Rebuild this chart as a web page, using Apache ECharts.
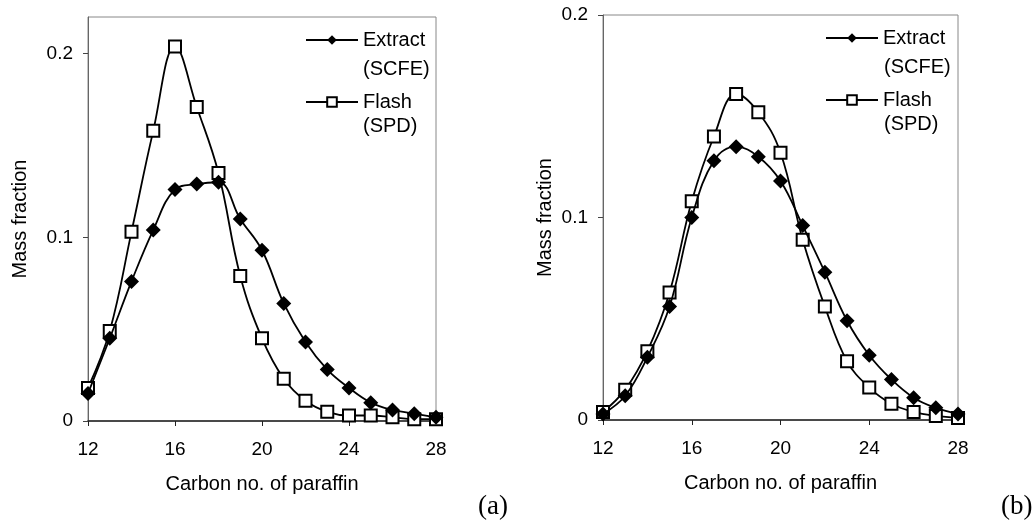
<!DOCTYPE html>
<html>
<head>
<meta charset="utf-8">
<script src="https://cdn.jsdelivr.net/npm/echarts@6/dist/echarts.min.js"></script>
<style>
  html, body { margin: 0; padding: 0; background: #fff; }
  #container { width: 1034px; height: 520px; }
</style>
</head>
<body>
<div id="container"></div>
<script>
  // carbon number of the paraffin (x)
  var carbonNo = [12, 13, 14, 15, 16, 17, 18, 19, 20, 21, 22, 23, 24, 25, 26, 27, 28];
  // (a) mass fractions
  var extractA = [0.015, 0.045, 0.076, 0.104, 0.126, 0.129, 0.130, 0.110, 0.093, 0.064, 0.043, 0.028, 0.018, 0.010, 0.006, 0.004, 0.002];
  var flashA = [0.018, 0.049, 0.103, 0.158, 0.204, 0.171, 0.135, 0.079, 0.045, 0.023, 0.011, 0.005, 0.003, 0.003, 0.002, 0.001, 0.001];
  // (b) mass fractions
  var extractB = [0.003, 0.012, 0.031, 0.056, 0.100, 0.128, 0.135, 0.130, 0.118, 0.096, 0.073, 0.049, 0.032, 0.020, 0.011, 0.006, 0.003];
  var flashB = [0.004, 0.015, 0.034, 0.063, 0.108, 0.140, 0.161, 0.152, 0.132, 0.089, 0.056, 0.029, 0.016, 0.008, 0.004, 0.002, 0.001];
  var yTicks = [0, 0.1, 0.2];

  var font = "'Liberation Sans', Arial, sans-serif";

  function pairs(vals) {
    return carbonNo.map(function (c, i) { return [c, vals[i]]; });
  }

  function xAxis(idx) {
    return {
      type: 'value', gridIndex: idx, min: 12, max: 28, interval: 4,
      name: 'Carbon no. of paraffin', nameLocation: 'middle', nameGap: 53,
      nameTextStyle: { fontSize: 20, color: '#000', fontFamily: font },
      splitLine: { show: false },
      axisLine: { lineStyle: { color: '#222', width: 1.5 } },
      axisTick: { length: 5, lineStyle: { color: '#222' } },
      axisLabel: { fontSize: 19, color: '#000', fontFamily: font, margin: 19 }
    };
  }

  function yAxis(idx, max, gap) {
    return {
      type: 'value', gridIndex: idx, min: 0, max: max,
      name: 'Mass fraction', nameLocation: 'middle', nameGap: gap,
      nameTextStyle: { fontSize: 20, color: '#000', fontFamily: font },
      splitLine: { show: false },
      axisLine: { lineStyle: { color: '#666', width: 1 } },
      axisTick: { length: 5, customValues: yTicks, lineStyle: { color: '#444' } },
      axisLabel: {
        fontSize: 19, color: '#000', fontFamily: font, margin: 15,
        customValues: yTicks,
        formatter: function (v) { return v === 0 ? '0' : v.toFixed(1); }
      }
    };
  }

  function extractSeries(idx, vals) {
    return {
      name: 'Extract', type: 'line', xAxisIndex: idx, yAxisIndex: idx,
      data: pairs(vals), smooth: 0.4, symbol: 'diamond', symbolSize: 15,
      lineStyle: { color: '#000', width: 1.8 },
      itemStyle: { color: '#000' }, z: 3
    };
  }

  function flashSeries(idx, vals) {
    return {
      name: 'Flash', type: 'line', xAxisIndex: idx, yAxisIndex: idx,
      data: pairs(vals), smooth: 0.4, symbol: 'rect', symbolSize: 12,
      lineStyle: { color: '#000', width: 1.8 },
      itemStyle: { color: '#fff', borderColor: '#000', borderWidth: 2 }, z: 2
    };
  }

  function legend(left, top) {
    return {
      orient: 'vertical', left: left, top: top, padding: 0,
      data: ['Extract', 'Flash'], itemWidth: 52, itemHeight: 12, itemGap: 42,
      selectedMode: false,
      textStyle: { fontSize: 20, color: '#000', fontFamily: font, lineHeight: 20 }
    };
  }

  function note(x, y, str) {
    return { type: 'text', left: x, top: y, style: { text: str, fontSize: 20, fill: '#000', fontFamily: font } };
  }

  var myChart = echarts.init(document.getElementById('container'));
  var option = {
    animation: false,
    grid: [
      { left: 88, top: 17, width: 348, height: 404, show: true, borderColor: '#888', borderWidth: 1 },
      { left: 603, top: 15, width: 355, height: 405, show: true, borderColor: '#888', borderWidth: 1 }
    ],
    xAxis: [xAxis(0), xAxis(1)],
    yAxis: [yAxis(0, 0.22, 58), yAxis(1, 0.2, 48)],
    legend: [legend(305, 30), legend(825, 28)],
    series: [
      flashSeries(0, flashA), extractSeries(0, extractA),
      flashSeries(1, flashB), extractSeries(1, extractB)
    ],
    graphic: [
      note(363, 59, '(SCFE)'),
      note(363, 116, '(SPD)'),
      note(884, 57, '(SCFE)'),
      note(884, 114, '(SPD)'),
      { type: 'text', left: 478, top: 493, style: { text: '(a)', fontSize: 27, fill: '#000', fontFamily: "'Liberation Serif', 'Times New Roman', serif" } },
      { type: 'text', left: 1001, top: 493, style: { text: '(b)', fontSize: 27, fill: '#000', fontFamily: "'Liberation Serif', 'Times New Roman', serif" } }
    ]
  };
  myChart.setOption(option);
</script>
</body>
</html>
